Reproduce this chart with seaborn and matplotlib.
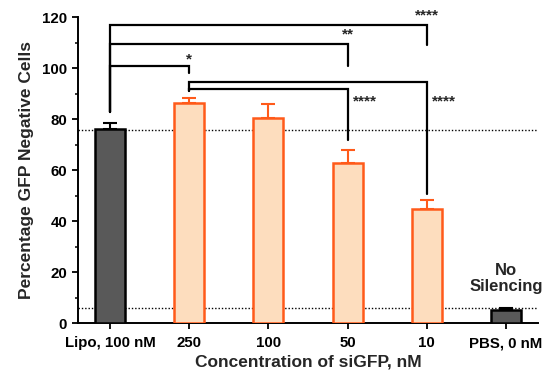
import numpy as np
import pandas as pd
import matplotlib
matplotlib.use("Agg")
import matplotlib.pyplot as plt
import seaborn as sns

# data
groups = ['Lipo, 100 nM', '250', '100', '50', '10', 'PBS, 0 nM']
means = [76.1, 86.4, 80.4, 62.7, 44.7, 5.2]
errs = [2.3, 1.8, 5.5, 5.3, 3.7, 0.9]
ref_lines = [75.8, 6.0]

# brackets: (left group, right group, height, left leg bottom, right leg bottom)
brackets = [
    (0, 4, 117, 83, 109),
    (0, 3, 109.5, 83, 101),
    (0, 1, 101, 83, 98),
    (1, 4, 94.8, 91, 50.5),
    (1, 3, 92, 91, 72),
]
stars = [('****', 4, 120.8), ('**', 3, 113.2), ('*', 1, 103.6)]
side_stars = [('****', 3, 87), ('****', 4, 87)]

sns.set_style("ticks")
plt.rcParams['font.family'] = ['Liberation Sans', 'DejaVu Sans']
plt.rcParams['font.weight'] = 'bold'

dark = '#595959'
peach = '#FDDDBE'
orange = '#FF5A1A'
faces = [dark, peach, peach, peach, peach, dark]
edges = ['black', orange, orange, orange, orange, 'black']

df = pd.DataFrame({'group': groups, 'value': means})

fig = plt.figure(figsize=(5.47, 3.71), dpi=100)
ax = fig.add_axes([0.143, 0.129, 0.84, 0.824])

sns.barplot(data=df, x='group', y='value', hue='group', palette=faces,
            legend=False, width=0.38, ax=ax, saturation=1)
for patch, ec in zip(ax.patches, edges):
    patch.set_edgecolor(ec)
    patch.set_linewidth(1.8)
    patch.set_zorder(3)

for i in range(len(groups)):
    ax.errorbar(i, means[i], yerr=[[0], [errs[i]]], color=edges[i],
                capsize=5, capthick=1.5, elinewidth=1.5, zorder=2)

for y in ref_lines:
    ax.axhline(y, color='black', ls=(0, (1, 1.4)), lw=1, zorder=1)

for a, b, h, la, lb in brackets:
    ax.plot([a, a, b, b], [la, h, h, lb], color='black', lw=1.6,
            solid_joinstyle='miter', zorder=4)

for s, i, y in stars:
    ax.text(i, y, s, ha='center', va='center', fontsize=11, fontweight='bold')
for s, i, y in side_stars:
    ax.text(i + 0.07, y, s, ha='left', va='center', fontsize=11, fontweight='bold')

ax.text(5, 17.5, 'No\nSilencing', ha='center', va='center', fontsize=12,
        fontweight='bold', linespacing=1.15)

ax.set_xlim(-0.4, 5.4)
ax.set_ylim(0, 120)
ax.set_yticks(np.arange(0, 121, 20))
ax.set_yticks(np.arange(0, 121, 10), minor=True)
ax.set_xlabel('Concentration of siGFP, nM', fontsize=12.5, fontweight='bold',
              labelpad=3)
ax.set_ylabel('Percentage GFP Negative Cells', fontsize=12.5, fontweight='bold',
              labelpad=6)
ax.tick_params(axis='both', labelsize=10.8, width=1.3, length=4.5, color='black',
               labelcolor='black')
ax.tick_params(axis='x', pad=5)
ax.tick_params(axis='y', which='minor', width=1.3, length=2.5)
for lab in ax.get_xticklabels() + ax.get_yticklabels():
    lab.set_fontweight('bold')
for sp in ['left', 'bottom']:
    ax.spines[sp].set_linewidth(1.4)
    ax.spines[sp].set_color('black')
sns.despine(ax=ax)

fig.savefig('out.png', dpi=100)
